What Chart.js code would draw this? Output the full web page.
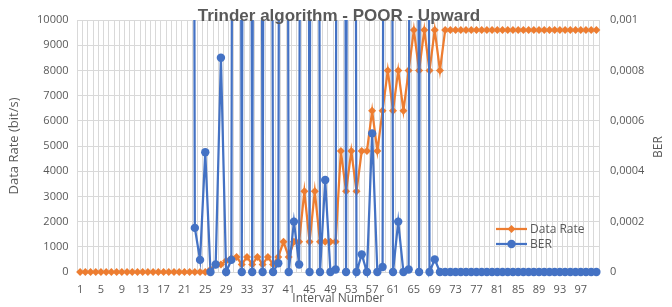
<!DOCTYPE html>
<html lang="en">
<head>
  <meta charset="UTF-8">
  <title>Trinder algorithm - POOR - Upward</title>
  <script src="https://cdn.jsdelivr.net/npm/chart.js"></script>
  <style>
    body {
      margin: 0;
      padding: 0;
      background: #fff;
    }
    #chartBox {
      width: 672px;
      height: 307px;
    }
  </style>
</head>
<body>
<div id="chartBox">
  <canvas id="rateChart" width="672" height="307"></canvas>
</div>

<script>
  const chartTitle = "Trinder algorithm - POOR - Upward";

  // interval numbers (x categories)
  const intervals = [
    1, 2, 3, 4, 5, 6, 7, 8, 9, 10,
    11, 12, 13, 14, 15, 16, 17, 18, 19, 20,
    21, 22, 23, 24, 25, 26, 27, 28, 29, 30,
    31, 32, 33, 34, 35, 36, 37, 38, 39, 40,
    41, 42, 43, 44, 45, 46, 47, 48, 49, 50,
    51, 52, 53, 54, 55, 56, 57, 58, 59, 60,
    61, 62, 63, 64, 65, 66, 67, 68, 69, 70,
    71, 72, 73, 74, 75, 76, 77, 78, 79, 80,
    81, 82, 83, 84, 85, 86, 87, 88, 89, 90,
    91, 92, 93, 94, 95, 96, 97, 98, 99, 100
  ];

  // Data Rate (bit/s), left axis
  const dataRate = [
    0, 0, 0, 0, 0, 0, 0, 0, 0, 0,
    0, 0, 0, 0, 0, 0, 0, 0, 0, 0,
    0, 0, 0, 0, 0, 100, 300, 300, 450, 550,
    600, 300, 600, 300, 600, 300, 600, 300, 600, 1200,
    600, 1200, 1200, 3200, 1200, 3200, 1200, 1200, 1200, 1200,
    4800, 3200, 4800, 3200, 4800, 4800, 6400, 4800, 6400, 8000,
    6400, 8000, 6400, 8000, 9600, 8000, 9600, 8000, 9600, 8000,
    9600, 9600, 9600, 9600, 9600, 9600, 9600, 9600, 9600, 9600,
    9600, 9600, 9600, 9600, 9600, 9600, 9600, 9600, 9600, 9600,
    9600, 9600, 9600, 9600, 9600, 9600, 9600, 9600, 9600, 9600
  ];

  // BER, right axis (0.01 = off the scale, the spikes that run out the top)
  const ber = [
    null, null, null, null, null, null, null, null, null, null,
    null, null, null, null, null, null, null, null, null, null,
    null, 0.01, 0.000175, 0.000048, 0.000475, 0, 0.00003, 0.00085, 0, 0.000048,
    0.01, 0, 0.01, 0, 0.01, 0, 0.01, 0, 0.000035, 0.01,
    0, 0.0002, 0.00003, 0.01, 0, 0.01, 0, 0.000365, 0, 0.00001,
    0.01, 0, 0.01, 0, 0.00007, 0, 0.00055, 0, 0.00002, 0.01,
    0, 0.0002, 0, 0.00001, 0.01, 0, 0.01, 0, 0.00005, 0,
    0, 0, 0, 0, 0, 0, 0, 0, 0, 0,
    0, 0, 0, 0, 0, 0, 0, 0, 0, 0,
    0, 0, 0, 0, 0, 0, 0, 0, 0, 0
  ];

  const rateColor = "#ED7D31";
  const berColor = "#4472C4";
  const textColor = "#595959";
  const gridColor = "#d9d9d9";
  const fontFamily = '"Open Sans", "Liberation Sans", sans-serif';

  Chart.defaults.font.family = fontFamily;
  Chart.defaults.font.size = 11;
  Chart.defaults.color = textColor;

  // title, right axis name and the legend box inside the plot
  const overlay = {
    id: "overlay",
    afterDraw(chart) {
      const ctx = chart.ctx;
      ctx.save();
      ctx.fillStyle = textColor;
      ctx.textBaseline = "middle";

      ctx.font = 'bold 17px "Liberation Sans", sans-serif';
      ctx.textAlign = "center";
      ctx.fillText(chartTitle, 339, 16);

      ctx.save();
      ctx.translate(659, 147);
      ctx.rotate(-Math.PI / 2);
      ctx.font = "12px " + fontFamily;
      ctx.fillText("BER", 0, 0);
      ctx.restore();

      const rows = [
        { label: "Data Rate", color: rateColor, shape: "diamond", y: 229 },
        { label: "BER", color: berColor, shape: "circle", y: 244 }
      ];
      const lx = 496;
      ctx.font = "12px " + fontFamily;
      ctx.textAlign = "left";
      rows.forEach(r => {
        ctx.strokeStyle = r.color;
        ctx.fillStyle = r.color;
        ctx.lineWidth = 2.25;
        ctx.beginPath();
        ctx.moveTo(lx, r.y);
        ctx.lineTo(lx + 31, r.y);
        ctx.stroke();
        ctx.beginPath();
        const cx = lx + 15.5;
        if (r.shape === "diamond") {
          ctx.moveTo(cx, r.y - 4);
          ctx.lineTo(cx + 4, r.y);
          ctx.lineTo(cx, r.y + 4);
          ctx.lineTo(cx - 4, r.y);
          ctx.closePath();
        } else {
          ctx.arc(cx, r.y, 4.2, 0, Math.PI * 2);
        }
        ctx.fill();
        ctx.fillStyle = textColor;
        ctx.fillText(r.label, lx + 34, r.y + 1);
      });
      ctx.restore();
    }
  };

  const ctx = document.getElementById("rateChart").getContext("2d");
  new Chart(ctx, {
    type: "line",
    data: {
      labels: intervals,
      datasets: [
        {
          label: "Data Rate",
          data: dataRate,
          yAxisID: "y",
          borderColor: rateColor,
          backgroundColor: rateColor,
          borderWidth: 2.25,
          pointStyle: "rectRot",
          pointRadius: 4,
          pointBorderWidth: 0,
          tension: 0,
          order: 2,
          clip: { left: 6, right: 6, top: 0, bottom: 6 }
        },
        {
          label: "BER",
          data: ber,
          yAxisID: "y1",
          borderColor: berColor,
          backgroundColor: berColor,
          borderWidth: 2.25,
          pointStyle: "circle",
          pointRadius: 4.2,
          pointBorderWidth: 0,
          tension: 0,
          order: 1,
          clip: { left: 6, right: 6, top: 0, bottom: 6 }
        }
      ]
    },
    options: {
      responsive: false,
      animation: false,
      devicePixelRatio: 1,
      layout: { padding: { top: 20, left: 0, right: 0, bottom: 0 } },
      plugins: {
        legend: { display: false },
        title: { display: false },
        tooltip: { enabled: false }
      },
      scales: {
        x: {
          type: "category",
          offset: true,
          grid: { offset: true, color: gridColor, drawTicks: false },
          border: { color: gridColor },
          ticks: {
            autoSkip: false,
            maxRotation: 0,
            minRotation: 0,
            padding: 11,
            callback: function(value, index) {
              return index % 4 === 0 ? String(intervals[index]) : "";
            }
          },
          title: {
            display: true,
            text: "Interval Number",
            font: { size: 12 },
            padding: { top: 0, bottom: 1 }
          },
          afterFit: s => { s.height = 35; }
        },
        y: {
          position: "left",
          min: 0,
          max: 10000,
          grid: { color: gridColor, drawTicks: false },
          border: { display: false },
          ticks: {
            stepSize: 1000,
            padding: 9,
            callback: v => String(v)
          },
          title: {
            display: true,
            text: "Data Rate (bit/s)",
            font: { size: 13 },
            padding: { top: 6, bottom: 0 }
          },
          afterFit: s => { s.width = 77.5; }
        },
        y1: {
          position: "right",
          min: 0,
          max: 0.001,
          grid: { display: false, drawTicks: false },
          border: { display: false },
          ticks: {
            stepSize: 0.0002,
            padding: 11,
            callback: v => v === 0 ? "0" : v.toFixed(4).replace(/0+$/, "").replace(".", ",")
          },
          afterFit: s => { s.width = 73; }
        }
      }
    },
    plugins: [overlay]
  });
</script>
</body>
</html>
